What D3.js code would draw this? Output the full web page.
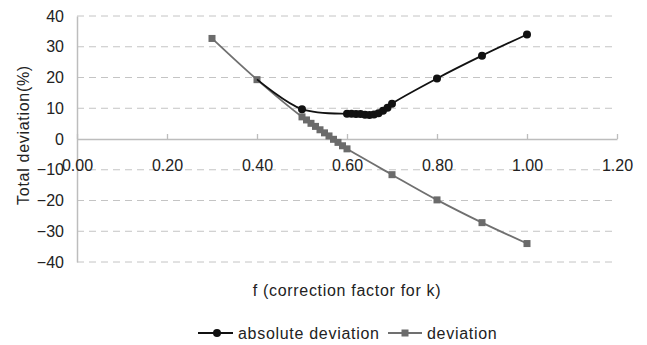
<!DOCTYPE html>
<html>
<head>
<meta charset="utf-8">
<script src="https://cdn.jsdelivr.net/npm/d3@7"></script>
<style>
  html, body { margin: 0; padding: 0; background: #fff; }
  svg text { font-family: "Liberation Sans", Arial, sans-serif; fill: #222; }
</style>
</head>
<body>
<svg id="chart" width="647" height="345"></svg>
<script>
// values
const absF = [0.4, 0.5, 0.6, 0.61, 0.62, 0.63, 0.64, 0.65, 0.66, 0.67, 0.68, 0.69, 0.7, 0.8, 0.9, 1.0];
const absVals = [19.4, 9.7, 8.2, 8.2, 8.1, 8.1, 7.9, 7.8, 8.0, 8.4, 9.2, 10.2, 11.5, 19.7, 27.1, 34.0];
const devF = [0.3, 0.4, 0.5, 0.51, 0.52, 0.53, 0.54, 0.55, 0.56, 0.57, 0.58, 0.59, 0.6, 0.7, 0.8, 0.9, 1.0];
const devVals = [32.7, 19.3, 7.2, 6.2, 5.1, 4.1, 3.0, 2.0, 1.0, -0.1, -1.1, -2.2, -3.2, -11.6, -19.8, -27.2, -34.0];
const xTicks = [0, 0.2, 0.4, 0.6, 0.8, 1.0, 1.2];
const yTicks = [-40, -30, -20, -10, 0, 10, 20, 30, 40];
const seriesNames = ["absolute deviation", "deviation"];

const svg = d3.select("#chart");
const WIDTH = 647, HEIGHT = 345;
const MARGINS = {top: 16, right: 30, bottom: 83, left: 77};

let xScale = d3.scaleLinear().domain([0, 1.2]).range([MARGINS.left, WIDTH - MARGINS.right]),
    yScale = d3.scaleLinear().domain([-40, 40]).range([HEIGHT - MARGINS.bottom, MARGINS.top]);

// dashed gridlines
svg.append("g").selectAll("line")
    .data(yTicks.filter(d => d !== 0))
    .enter().append("line")
    .attr("x1", xScale(0)).attr("x2", xScale(1.2))
    .attr("y1", d => yScale(d)).attr("y2", d => yScale(d))
    .attr("stroke", "#c4c4c4")
    .attr("stroke-dasharray", "7,5");

// y axis (no ticks, just line and labels)
let yAxis = d3.axisLeft(yScale).tickValues(yTicks).tickSize(0).tickPadding(13)
    .tickFormat(d => d < 0 ? "\u2212" + Math.abs(d) : d);
let yg = svg.append("g")
    .attr("transform", "translate(" + xScale(0) + ",0)")
    .call(yAxis);
yg.select(".domain").attr("stroke", "#bdbdbd").attr("stroke-width", 1.5);
yg.selectAll("text").attr("font-size", "16px").attr("fill", "#222");

// x axis at zero, ticks pointing up, labels below
let xAxis = d3.axisBottom(xScale).tickValues(xTicks).tickSize(0)
    .tickFormat(d3.format(".2f"));
let xg = svg.append("g")
    .attr("transform", "translate(0," + yScale(0) + ")")
    .call(xAxis);
xg.select(".domain").attr("stroke", "#bdbdbd").attr("stroke-width", 1.5);
xg.selectAll(".tick line").attr("y1", -5).attr("y2", 0).attr("stroke", "#bdbdbd").attr("stroke-width", 1.3);
xg.selectAll(".tick text").attr("y", 27).attr("dy", "0.32em").attr("font-size", "16px").attr("fill", "#222");

// axis titles
svg.append("text")
    .attr("text-anchor", "middle")
    .attr("transform", "translate(29,135)rotate(-90)")
    .attr("font-size", "16px")
    .attr("letter-spacing", "0.7px")
    .text("Total deviation(%)");
svg.append("text")
    .attr("text-anchor", "middle")
    .attr("x", 347).attr("y", 296)
    .attr("font-size", "16px")
    .attr("letter-spacing", "0.7px")
    .text("f (correction factor for k)");

let lineGen = d3.line()
    .x(d => xScale(d[0]))
    .y(d => yScale(d[1]))
    .curve(d3.curveCatmullRom.alpha(0.5));

const devData = devF.map((f, i) => [f, devVals[i]]);
const absData = absF.map((f, i) => [f, absVals[i]]);

// deviation (grey squares)
svg.append("path")
    .attr("d", lineGen(devData))
    .attr("stroke", "#707070").attr("stroke-width", 1.8).attr("fill", "none");
svg.append("g").selectAll("rect").data(devData)
    .enter().append("rect")
    .attr("x", d => xScale(d[0]) - 3.5).attr("y", d => yScale(d[1]) - 3.5)
    .attr("width", 7).attr("height", 7)
    .attr("fill", "#6b6b6b");

// absolute deviation (black circles); its first marker sits under the grey square
svg.append("path")
    .attr("d", lineGen(absData))
    .attr("stroke", "#111").attr("stroke-width", 1.8).attr("fill", "none");
svg.append("g").selectAll("circle").data(absData.slice(1))
    .enter().append("circle")
    .attr("cx", d => xScale(d[0])).attr("cy", d => yScale(d[1]))
    .attr("r", 4)
    .attr("fill", "#111");

// legend
let leg = svg.append("g").attr("transform", "translate(0,333)");
let lg1 = leg.append("g").attr("transform", "translate(198,0)");
lg1.append("line").attr("x1", 0).attr("x2", 35).attr("stroke", "#111").attr("stroke-width", 1.8);
lg1.append("circle").attr("cx", 19).attr("r", 4).attr("fill", "#111");
lg1.append("text").attr("x", 40).attr("dy", "0.35em").attr("font-size", "16px")
    .attr("letter-spacing", "0.7px").text(seriesNames[0]);
let lg2 = leg.append("g").attr("transform", "translate(388,0)");
lg2.append("line").attr("x1", 0).attr("x2", 34).attr("stroke", "#707070").attr("stroke-width", 1.8);
lg2.append("rect").attr("x", 13.5).attr("y", -3.5).attr("width", 7).attr("height", 7).attr("fill", "#6b6b6b");
lg2.append("text").attr("x", 39).attr("dy", "0.35em").attr("font-size", "16px")
    .attr("letter-spacing", "0.7px").text(seriesNames[1]);
</script>
</body>
</html>
